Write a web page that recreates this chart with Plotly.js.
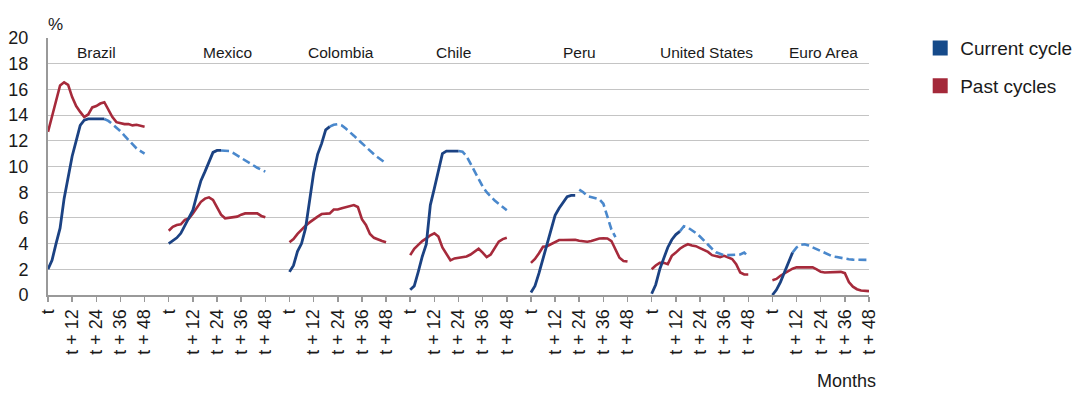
<!DOCTYPE html>
<html>
<head>
<meta charset="utf-8">
<script src="https://cdn.plot.ly/plotly-3.0.1.min.js"></script>
<style>
  html, body { margin: 0; padding: 0; background: #fff; }
  #chart { width: 1075px; height: 394px; }
</style>
</head>
<body>
<div id="chart"></div>
<script>
// ---- Data ----
const countries = ["Brazil", "Mexico", "Colombia", "Chile", "Peru", "United States", "Euro Area"];
const tickLabels = ["t", "t + 12", "t + 24", "t + 36", "t + 48"];
const tickMonths = [0, 12, 24, 36, 48];
const months = [0, 2, 4, 6, 8, 10, 12, 14, 16, 18, 20, 22, 24, 26, 28, 30, 32, 34, 36, 38, 40, 42, 44, 46, 48];

const brazilActual    = [2.0, 2.7, 4.0, 5.2, 7.5, 9.1, 10.8, 12.0, 13.2, 13.6, 13.7, 13.7, 13.7, 13.7, 13.7, null, null, null, null, null, null, null, null, null, null];
const brazilProjected = [null, null, null, null, null, null, null, null, null, null, null, null, null, null, 13.7, 13.55, 13.3, 13.05, 12.75, 12.4, 12.05, 11.7, 11.4, 11.2, 11.0];
const brazilPast      = [12.7, 13.9, 15.3, 16.3, 16.55, 16.35, 15.4, 14.7, 14.25, 13.85, 14.05, 14.6, 14.7, 14.9, 15.0, 14.4, 13.85, 13.45, 13.35, 13.3, 13.3, 13.2, 13.25, 13.15, 13.1];

const mexicoActual    = [4.0, 4.2, 4.45, 4.8, 5.4, 6.1, 6.6, 7.8, 8.9, 9.6, 10.4, 11.1, 11.25, 11.25, null, null, null, null, null, null, null, null, null, null, null];
const mexicoProjected = [null, null, null, null, null, null, null, null, null, null, null, null, null, 11.25, 11.25, 11.2, 11.05, 10.85, 10.65, 10.45, 10.25, 10.1, 9.9, 9.75, 9.6];
const mexicoPast      = [5.0, 5.3, 5.45, 5.5, 5.85, 5.95, 6.35, 6.85, 7.25, 7.5, 7.6, 7.4, 6.85, 6.25, 5.97, 6.0, 6.05, 6.1, 6.25, 6.35, 6.35, 6.35, 6.35, 6.15, 6.05];

const colombiaActual    = [1.8, 2.3, 3.4, 4.0, 5.2, 7.3, 9.5, 10.95, 11.8, 12.85, 13.1, null, null, null, null, null, null, null, null, null, null, null, null, null, null];
const colombiaProjected = [null, null, null, null, null, null, null, null, null, null, 13.1, 13.25, 13.3, 13.2, 12.95, 12.7, 12.4, 12.1, 11.8, 11.5, 11.2, 10.95, 10.7, 10.45, 10.25];
const colombiaPast      = [4.1, 4.35, 4.75, 5.1, 5.4, 5.65, 5.9, 6.1, 6.3, 6.3, 6.35, 6.65, 6.65, 6.75, 6.85, 6.95, 7.0, 6.85, 5.9, 5.45, 4.75, 4.45, 4.3, 4.2, 4.1];

const chileActual    = [0.4, 0.7, 1.8, 3.0, 3.95, 7.0, 8.3, 9.7, 11.0, 11.2, 11.2, 11.2, 11.2, null, null, null, null, null, null, null, null, null, null, null, null];
const chileProjected = [null, null, null, null, null, null, null, null, null, null, null, null, 11.2, 11.15, 10.8, 10.2, 9.6, 9.0, 8.45, 8.0, 7.65, 7.35, 7.1, 6.85, 6.6];
const chilePast      = [3.1, 3.6, 3.9, 4.2, 4.4, 4.65, 4.8, 4.55, 3.7, 3.25, 2.7, 2.85, 2.9, 2.9, 3.0, 3.15, 3.35, 3.6, 3.3, 2.95, 3.15, 3.6, 4.15, 4.35, 4.45];

const peruActual    = [0.2, 0.7, 1.7, 2.8, 4.0, 5.1, 6.2, 6.75, 7.2, 7.65, 7.75, 7.75, null, null, null, null, null, null, null, null, null, null, null, null, null];
const peruProjected = [null, null, null, null, null, null, null, null, null, null, null, null, 8.2, 8.0, 7.7, 7.6, 7.55, 7.45, 7.1, 6.1, 5.1, 4.5, null, null, null];
const peruPast      = [2.5, 2.8, 3.25, 3.75, 3.8, 3.95, 4.15, 4.28, 4.28, 4.28, 4.3, 4.3, 4.22, 4.18, 4.15, 4.2, 4.3, 4.4, 4.42, 4.4, 4.2, 3.6, 2.9, 2.65, 2.6];

const usActual    = [0.1, 0.8, 2.0, 2.9, 3.7, 4.3, 4.7, 4.95, null, null, null, null, null, null, null, null, null, null, null, null, null, null, null, null, null];
const usProjected = [null, null, null, null, null, null, null, 4.95, 5.35, 5.25, 5.05, 4.82, 4.55, 4.22, 3.9, 3.6, 3.32, 3.18, 3.1, 3.1, 3.1, 3.1, 3.15, 3.3, 3.0];
const usPast      = [2.0, 2.3, 2.5, 2.5, 2.4, 3.05, 3.3, 3.6, 3.8, 3.95, 3.85, 3.8, 3.65, 3.5, 3.35, 3.1, 3.05, 2.95, 3.05, 2.9, 2.8, 2.4, 1.75, 1.6, 1.6];

const euroActual    = [0.0, 0.4, 1.0, 1.8, 2.65, 3.3, null, null, null, null, null, null, null, null, null, null, null, null, null, null, null, null, null, null, null];
const euroProjected = [null, null, null, null, null, 3.3, 3.7, 3.9, 3.95, 3.85, 3.7, 3.55, 3.4, 3.25, 3.1, 3.0, 2.95, 2.88, 2.82, 2.78, 2.75, 2.75, 2.73, 2.73, 2.73];
const euroPast      = [1.15, 1.25, 1.5, 1.7, 1.85, 2.05, 2.15, 2.15, 2.15, 2.15, 2.15, 2.0, 1.8, 1.75, 1.75, 1.75, 1.8, 1.8, 1.7, 1.0, 0.65, 0.45, 0.35, 0.3, 0.3];

const seriesNames = ["Current cycle", "Past cycles"];

// ---- Build chart ----
const panelData = [
  [brazilActual, brazilProjected, brazilPast],
  [mexicoActual, mexicoProjected, mexicoPast],
  [colombiaActual, colombiaProjected, colombiaPast],
  [chileActual, chileProjected, chilePast],
  [peruActual, peruProjected, peruPast],
  [usActual, usProjected, usPast],
  [euroActual, euroProjected, euroPast]
];

const PANEL_STEP = 60;          // horizontal slot per country (48 months + gap)
const labelShift = [0, 5, 1.5, -2.3, 0, 3.3, 1.3];

const DARK_BLUE = '#1b4283';
const LIGHT_BLUE = '#4a88cc';
const RED = '#a62a3b';

const traces = [];
const tickvals = [], ticktext = [];
const annotations = [];

panelData.forEach((d, i) => {
  const xs = months.map(m => m + i * PANEL_STEP);
  traces.push({ x: xs, y: d[2], type: 'scatter', mode: 'lines', showlegend: false, hoverinfo: 'skip',
    line: { color: RED, width: 2.6 } });
  traces.push({ x: xs, y: d[1], type: 'scatter', mode: 'lines', showlegend: false, hoverinfo: 'skip',
    line: { color: LIGHT_BLUE, width: 2.6, dash: '8px,4px' } });
  traces.push({ x: xs, y: d[0], type: 'scatter', mode: 'lines', showlegend: false, hoverinfo: 'skip',
    line: { color: DARK_BLUE, width: 2.8 } });
  tickMonths.forEach((m, k) => { tickvals.push(m + i * PANEL_STEP); ticktext.push(tickLabels[k]); });
  annotations.push({ x: i * PANEL_STEP + 24 + labelShift[i], y: 18.9, xref: 'x', yref: 'y',
    text: countries[i], showarrow: false, xanchor: 'center', yanchor: 'middle',
    font: { size: 15.5, color: '#1a1a1a' } });
});

// legend entries (square swatches)
traces.push({ x: [null], y: [null], type: 'scatter', mode: 'markers', name: seriesNames[0], legendgroup: 'a',
  marker: { symbol: 'square', size: 15, color: '#154a8a' }, hoverinfo: 'skip' });
traces.push({ x: [null], y: [null], type: 'scatter', mode: 'markers', name: seriesNames[1], legendgroup: 'b',
  marker: { symbol: 'square', size: 15, color: '#a4293a' }, hoverinfo: 'skip' });

annotations.push({ xref: 'paper', yref: 'paper', x: 0, y: 1, xanchor: 'center', yanchor: 'bottom',
  xshift: 7, yshift: 2, text: '%', showarrow: false, font: { size: 17, color: '#1a1a1a' } });
annotations.push({ xref: 'paper', yref: 'paper', x: 1, y: 0, xanchor: 'right', yanchor: 'bottom',
  xshift: 9, yshift: -98, text: 'Months', showarrow: false, font: { size: 18, color: '#1a1a1a' } });

const layout = {
  width: 1075, height: 394,
  margin: { l: 48, r: 206, t: 38, b: 99, pad: 0, autoexpand: false },
  paper_bgcolor: '#fff', plot_bgcolor: '#fff',
  font: { family: '"Liberation Sans", Arial, Helvetica, sans-serif', size: 18, color: '#1a1a1a' },
  xaxis: {
    range: [0, 408], tickmode: 'array', tickvals: tickvals, ticktext: ticktext,
    tickangle: -90, ticks: 'outside', ticklen: 5, tickwidth: 1.5, tickcolor: '#999',
    showline: true, linecolor: '#999', linewidth: 2, showgrid: false, zeroline: false,
    tickfont: { size: 18, color: '#1a1a1a' }
  },
  yaxis: {
    range: [0, 20], dtick: 2, tick0: 0, showline: true, linecolor: '#999', linewidth: 2,
    gridcolor: '#c4c4c4', gridwidth: 1, zeroline: false, ticks: '', ticklabelstandoff: 14,
    tickfont: { size: 18, color: '#1a1a1a' }
  },
  showlegend: true,
  legend: {
    xref: 'container', yref: 'container',
    x: 0.856, y: 0.926, xanchor: 'left', yanchor: 'top', traceorder: 'grouped', tracegroupgap: 10,
    font: { size: 19, color: '#1a1a1a' }, bgcolor: 'rgba(0,0,0,0)'
  },
  annotations: annotations
};

Plotly.newPlot('chart', traces, layout, { staticPlot: true, displayModeBar: false });
</script>
</body>
</html>
